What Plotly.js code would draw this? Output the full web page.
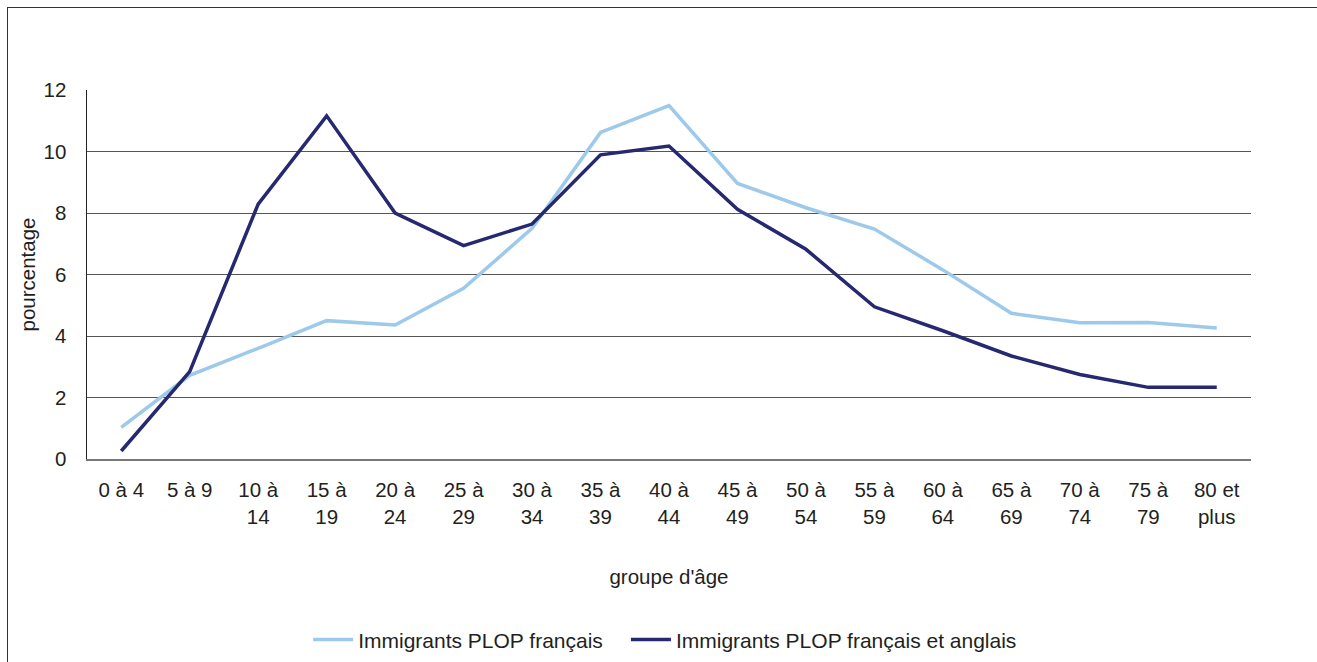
<!DOCTYPE html>
<html>
<head>
<meta charset="utf-8">
<script src="https://cdn.plot.ly/plotly-3.0.1.min.js"></script>
<style>
  html, body { margin: 0; padding: 0; background: #fff; }
  #wrap { position: relative; width: 1317px; height: 662px; overflow: hidden; }
  #chart { width: 1317px; height: 662px; }
  #frame { position: absolute; left: 7px; top: 7px; width: 1400px; height: 800px;
           border-left: 1.5px solid #333; border-top: 1.5px solid #333; pointer-events: none; }
</style>
</head>
<body>
<div id="wrap">
  <div id="chart"></div>
  <div id="frame"></div>
</div>
<script>
const categories = ["0 à 4", "5 à 9", "10 à<br>14", "15 à<br>19", "20 à<br>24", "25 à<br>29",
  "30 à<br>34", "35 à<br>39", "40 à<br>44", "45 à<br>49", "50 à<br>54", "55 à<br>59",
  "60 à<br>64", "65 à<br>69", "70 à<br>74", "75 à<br>79", "80 et<br>plus"];
const seriesFrancais = [1.03, 2.72, 3.60, 4.50, 4.36, 5.55, 7.50, 10.62, 11.49, 8.96, 8.17, 7.48, 6.15, 4.74, 4.43, 4.44, 4.26];
const seriesFrancaisAnglais = [0.26, 2.84, 8.29, 11.16, 8.00, 6.94, 7.64, 9.89, 10.18, 8.12, 6.82, 4.95, 4.17, 3.35, 2.75, 2.33, 2.33];
const seriesNames = ["Immigrants PLOP français", "Immigrants PLOP français et anglais"];
const yTicks = [0, 2, 4, 6, 8, 10, 12];
const xTitle = "groupe d'âge";
const yTitle = "pourcentage";

const FONT = "Liberation Sans, Arial, Helvetica, sans-serif";
const FS = 20.5;
const LFS = 21;
const traces = [
  { x: categories, y: seriesFrancais, name: seriesNames[0], type: "scatter", mode: "lines",
    legend: "legend", line: { color: "#9DC9EB", width: 3.5 } },
  { x: categories, y: seriesFrancaisAnglais, name: seriesNames[1], type: "scatter", mode: "lines",
    legend: "legend2", line: { color: "#262970", width: 3.5 } }
];
const legendBase = { orientation: "h", y: -0.49, yanchor: "middle", xanchor: "left",
  font: { family: FONT, size: LFS, color: "#231f20" }, itemwidth: 40, bgcolor: "rgba(0,0,0,0)" };
const layout = {
  width: 1317, height: 662,
  margin: { l: 87, r: 66, t: 90, b: 203, autoexpand: false },
  paper_bgcolor: "#fff", plot_bgcolor: "#fff",
  font: { family: FONT, size: FS, color: "#231f20" },
  showlegend: true,
  legend: Object.assign({}, legendBase, { x: 0.19 }),
  legend2: Object.assign({}, legendBase, { x: 0.463 }),
  xaxis: {
    type: "category", tickvals: categories, ticktext: categories, automargin: false,
    showgrid: false, zeroline: false, showline: true, linecolor: "#777", linewidth: 1.5,
    ticks: "", ticklabelstandoff: 12, tickangle: 0,
    title: { text: xTitle, standoff: 43, font: { family: FONT, size: FS, color: "#231f20" } },
    range: [-0.5, 16.5], fixedrange: true
  },
  yaxis: {
    range: [0, 12], tickvals: yTicks, ticktext: yTicks.map(String), automargin: false,
    showgrid: true, gridcolor: "#555", gridwidth: 1, zeroline: false,
    showline: true, linecolor: "#222", linewidth: 1.5, ticks: "", ticklabelstandoff: 15,
    title: { text: yTitle, standoff: 2, font: { family: FONT, size: FS, color: "#231f20" } },
    fixedrange: true
  }
};
Plotly.newPlot("chart", traces, layout, { displayModeBar: false, staticPlot: true });
</script>
</body>
</html>
